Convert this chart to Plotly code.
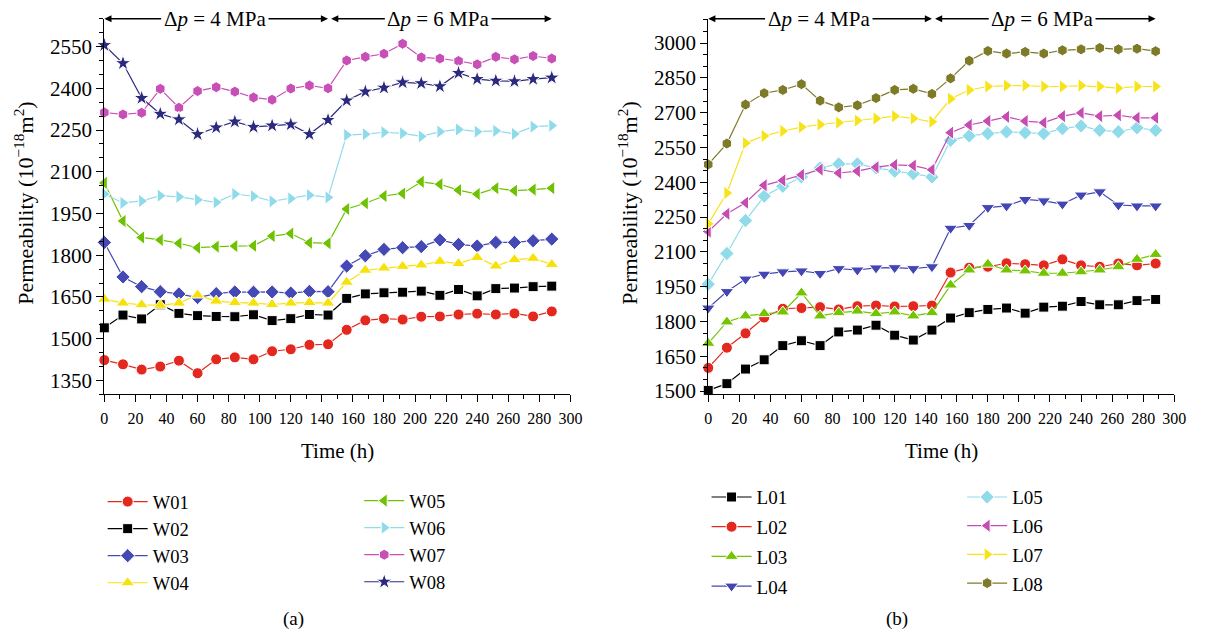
import plotly.graph_objects as go

# ---------------- data ----------------
time_h = [0, 12, 24, 36, 48, 60, 72, 84, 96, 108, 120, 132, 144,
          156, 168, 180, 192, 204, 216, 228, 240, 252, 264, 276, 288]

W01 = [1423, 1408, 1389, 1400, 1421, 1376, 1426, 1433, 1426, 1455, 1462, 1478, 1480,
       1532, 1566, 1572, 1569, 1579, 1580, 1587, 1590, 1587, 1591, 1580, 1598]
W02 = [1539, 1585, 1571, 1622, 1591, 1583, 1580, 1579, 1586, 1565, 1572, 1587, 1585,
       1645, 1661, 1665, 1667, 1671, 1656, 1677, 1654, 1680, 1682, 1687, 1689]
W03 = [1846, 1722, 1687, 1669, 1661, 1648, 1662, 1668, 1667, 1668, 1664, 1670, 1669,
       1761, 1798, 1821, 1827, 1831, 1855, 1839, 1833, 1846, 1846, 1852, 1858]
W04 = [1642, 1628, 1622, 1620, 1628, 1657, 1635, 1630, 1628, 1623, 1628, 1630, 1628,
       1703, 1746, 1754, 1760, 1765, 1778, 1770, 1792, 1761, 1784, 1789, 1767]
W05 = [2060, 1923, 1864, 1855, 1843, 1827, 1831, 1833, 1834, 1869, 1878, 1845, 1843,
       1966, 1987, 2013, 2022, 2064, 2055, 2034, 2020, 2041, 2032, 2036, 2041]
W06 = [2020, 1988, 1995, 2014, 2010, 1999, 1990, 2020, 2012, 1994, 2004, 2016, 2008,
       2232, 2235, 2242, 2238, 2227, 2244, 2252, 2244, 2247, 2236, 2262, 2266]
W07 = [2313, 2306, 2312, 2398, 2330, 2390, 2404, 2388, 2367, 2359, 2399, 2410, 2400,
       2500, 2513, 2524, 2560, 2511, 2507, 2498, 2486, 2513, 2504, 2516, 2507]
W08 = [2555, 2490, 2365, 2308, 2288, 2235, 2259, 2280, 2261, 2266, 2270, 2235, 2286,
       2356, 2388, 2402, 2421, 2418, 2407, 2455, 2433, 2427, 2425, 2433, 2438]

L01 = [1503, 1532, 1595, 1635, 1696, 1717, 1696, 1755, 1763, 1784, 1741, 1720, 1763,
       1815, 1838, 1852, 1858, 1836, 1862, 1866, 1886, 1872, 1872, 1890, 1895]
L02 = [1600, 1687, 1749, 1817, 1855, 1858, 1862, 1852, 1866, 1869, 1865, 1866, 1869,
       2011, 2032, 2036, 2051, 2047, 2042, 2068, 2042, 2036, 2050, 2042, 2050]
L03 = [1706, 1798, 1824, 1834, 1841, 1923, 1824, 1838, 1845, 1834, 1841, 1824, 1838,
       1957, 2022, 2047, 2022, 2018, 2008, 2008, 2014, 2022, 2036, 2068, 2089]
L04 = [1858, 1929, 1983, 2004, 2014, 2018, 2007, 2028, 2022, 2031, 2032, 2028, 2036,
       2202, 2214, 2291, 2298, 2326, 2320, 2306, 2345, 2359, 2302, 2298, 2298]
L05 = [1961, 2093, 2235, 2340, 2383, 2423, 2462, 2479, 2479, 2462, 2448, 2437, 2423,
       2581, 2600, 2610, 2617, 2614, 2610, 2631, 2643, 2624, 2618, 2635, 2624]
L06 = [2188, 2264, 2312, 2387, 2408, 2432, 2455, 2440, 2448, 2465, 2475, 2472, 2454,
       2614, 2647, 2664, 2682, 2664, 2657, 2685, 2699, 2685, 2689, 2678, 2678]
L07 = [2221, 2354, 2569, 2600, 2621, 2638, 2649, 2657, 2666, 2675, 2685, 2675, 2661,
       2760, 2798, 2813, 2817, 2817, 2813, 2813, 2817, 2813, 2806, 2813, 2813]
L08 = [2477, 2567, 2735, 2784, 2798, 2823, 2752, 2723, 2732, 2763, 2798, 2803, 2781,
       2848, 2924, 2966, 2955, 2962, 2955, 2969, 2973, 2979, 2973, 2976, 2965]

left_names = ["W01", "W02", "W03", "W04", "W05", "W06", "W07", "W08"]
right_names = ["L01", "L02", "L03", "L04", "L05", "L06", "L07", "L08"]
left_values = [W01, W02, W03, W04, W05, W06, W07, W08]
right_values = [L01, L02, L03, L04, L05, L06, L07, L08]

left_colors = ["#e3291f", "#000000", "#4449b3", "#f7e10a", "#6fc103", "#8fdbea", "#c84fb5", "#2c2a7f"]
left_symbols = ["circle", "square", "diamond", "triangle-up", "triangle-left",
                "triangle-right", "hexagon", "star"]
left_sizes = [11, 10, 11, 12, 12, 12, 11, 12]
right_colors = ["#000000", "#e3291f", "#74c402", "#4447b3", "#8fdbea", "#c54db1", "#f7e31a", "#7d7a28"]
right_symbols = ["square", "circle", "triangle-up", "triangle-down", "diamond",
                 "triangle-left", "triangle-right", "hexagon"]
right_sizes = [10, 11, 12, 12, 11, 12, 12, 11]

y_ticks_left = [1350, 1500, 1650, 1800, 1950, 2100, 2250, 2400, 2550]
y_ticks_right = [1500, 1650, 1800, 1950, 2100, 2250, 2400, 2550, 2700, 2850, 3000]
x_ticks = [0, 20, 40, 60, 80, 100, 120, 140, 160, 180, 200, 220, 240, 260, 280, 300]

FONT = "Liberation Serif"
W, H = 1207, 637

fig = go.Figure()

def add_series(names, values, colors, symbols, sizes, xa, ya, legends):
    for i, (n, v, c, s, sz) in enumerate(zip(names, values, colors, symbols, sizes)):
        fig.add_trace(go.Scatter(
            x=time_h, y=v, name=n, mode="lines+markers",
            xaxis=xa, yaxis=ya, cliponaxis=False,
            line=dict(color=c, width=1.2),
            marker=dict(symbol=s, size=sz, color=c, line=dict(color="white", width=1)),
            legend=legends[0] if i < 4 else legends[1],
            legendgroup=n,
        ))

add_series(left_names, left_values, left_colors, left_symbols, left_sizes,
           "x", "y", ("legend", "legend2"))
add_series(right_names, right_values, right_colors, right_symbols, right_sizes,
           "x2", "y2", ("legend3", "legend4"))

def px_x(p):
    return p / W

def px_y(p):
    return 1 - p / H

ydom = [px_y(400), px_y(19)]
axis_common = dict(showline=True, linecolor="black", linewidth=1.3, ticks="outside",
                   ticklen=7, tickwidth=1.2, tickcolor="black", showgrid=False,
                   zeroline=False, mirror=False)

fig.update_layout(
    width=W, height=H, margin=dict(l=0, r=0, t=0, b=0),
    paper_bgcolor="white", plot_bgcolor="white",
    font=dict(family=FONT, color="black", size=18),
    xaxis=dict(domain=[px_x(101.7), px_x(574)], range=[0, 300], tickvals=x_ticks,
               tickfont=dict(size=16, family=FONT), anchor="y", ticklabelstandoff=2,
               minor=dict(dtick=10, tick0=0, ticks="outside", ticklen=4, tickcolor="black"),
               **axis_common),
    yaxis=dict(domain=ydom, range=[1300, 2650], tickvals=y_ticks_left,
               tickfont=dict(size=21, family=FONT), anchor="x",
               minor=dict(dtick=50, tick0=1300, ticks="outside", ticklen=4, tickcolor="black"),
               **axis_common),
    xaxis2=dict(domain=[px_x(713.7), px_x(1186)], range=[0, 300], tickvals=x_ticks,
                tickfont=dict(size=16, family=FONT), anchor="y2", ticklabelstandoff=2,
                minor=dict(dtick=10, tick0=0, ticks="outside", ticklen=4, tickcolor="black"),
                **axis_common),
    yaxis2=dict(domain=ydom, range=[1486, 3105], tickvals=y_ticks_right,
                tickfont=dict(size=21, family=FONT), anchor="x2",
                minor=dict(dtick=50, tick0=1500, ticks="outside", ticklen=4, tickcolor="black"),
                **axis_common),
)

def leg(x, y, gap, size):
    return dict(x=x, y=y, font=dict(family=FONT, size=size), bgcolor="rgba(0,0,0,0)",
                xanchor="left", yanchor="top", traceorder="grouped",
                tracegroupgap=gap, itemwidth=40)

fig.update_layout(
    legend=leg(px_x(100), px_y(490), 0, 18.5),
    legend2=leg(px_x(360), px_y(489), 0, 18.5),
    legend3=leg(px_x(712), px_y(485), 2, 19),
    legend4=leg(px_x(971), px_y(485), 1, 19),
)

annotations = []
# pressure-stage arrows on top of each plot
for xa, ya, ytop in (("x", "y", 2650), ("x2", "y2", 3105)):
    for (xc, x_left, x_right, lab) in ((71, 0, 144, "Δ<i>p</i> = 4 MPa"),
                                        (215, 146, 288, "Δ<i>p</i> = 6 MPa")):
        # arrow toward the right end (drawn first, hidden under the label box)
        annotations.append(dict(
            x=x_right, y=ytop, ax=xc, ay=ytop, xref=xa, yref=ya, axref=xa, ayref=ya,
            text="", showarrow=True, arrowhead=2, arrowsize=1.1, arrowwidth=1.3,
            arrowcolor="black"))
        # label with arrow toward the left end
        annotations.append(dict(
            x=x_left, y=ytop, ax=xc, ay=ytop, xref=xa, yref=ya, axref=xa, ayref=ya,
            text=lab, showarrow=True, arrowhead=2, arrowsize=1.1, arrowwidth=1.3,
            arrowcolor="black", bgcolor="white", borderpad=2,
            font=dict(size=21, family=FONT)))

# axis titles
for xc in (20, 632):
    annotations.append(dict(x=px_x(xc), y=px_y(206), xref="paper", yref="paper",
                            xanchor="center", yanchor="middle",
                            text="Permeability (10<sup>−18</sup>m<sup>2</sup>)",
                            textangle=-90, showarrow=False, font=dict(size=22, family=FONT)))
for xc in (337.8, 949.8):
    annotations.append(dict(x=px_x(xc), y=px_y(457), xref="paper", yref="paper",
                            xanchor="center", yanchor="middle",
                            text="Time (h)", showarrow=False, font=dict(size=21, family=FONT)))
for xc, lab in ((293, "(a)"), (905, "(b)")):
    annotations.append(dict(x=px_x(xc), y=px_y(628), xref="paper", yref="paper",
                            xanchor="center", yanchor="middle",
                            text=lab, showarrow=False, font=dict(size=19, family=FONT)))

fig.update_layout(annotations=annotations)

fig.write_html("out.html")
